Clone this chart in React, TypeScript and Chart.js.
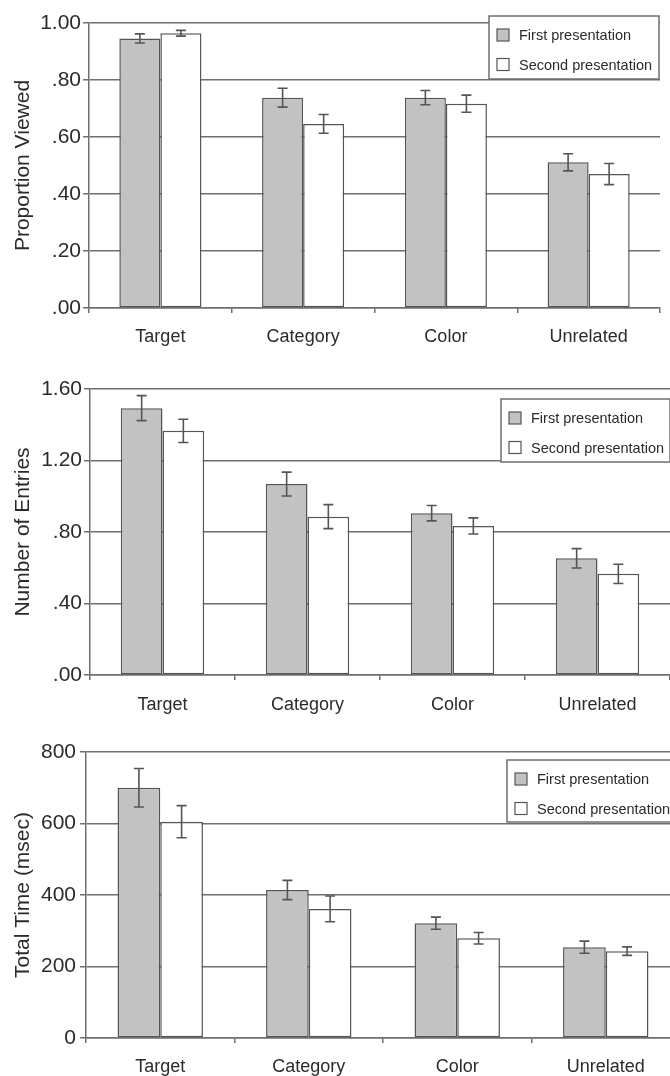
import React, { useEffect, useRef } from 'react';
import { Chart, registerables } from 'chart.js';

Chart.register(...registerables);

// ---- data ----
const categories = ['Target', 'Category', 'Color', 'Unrelated'];
const seriesLabels = ['First presentation', 'Second presentation'];

const viewedFirst = [0.946, 0.738, 0.738, 0.511];
const viewedSecond = [0.964, 0.646, 0.717, 0.47];
const viewedFirstErr = [0.016, 0.033, 0.025, 0.03];
const viewedSecondErr = [0.01, 0.033, 0.03, 0.037];

const entriesFirst = [1.493, 1.068, 0.905, 0.653];
const entriesSecond = [1.366, 0.886, 0.834, 0.566];
const entriesFirstErr = [0.07, 0.067, 0.043, 0.054];
const entriesSecondErr = [0.065, 0.067, 0.045, 0.054];

const timeFirst = [700, 414, 321, 254];
const timeSecond = [605, 361, 279, 243];
const timeFirstErr = [54, 27, 17, 17];
const timeSecondErr = [45, 36, 16, 12];

// ---- styling ----
const FONT = "'Liberation Sans', Arial, Helvetica, sans-serif";
const TEXT = '#2b2b2b';
const LINE = '#6f6f6f';
const EDGE = '#555555';
const GRAY = '#c2c2c2';
const WHITE = '#ffffff';

const decimalLabel = (v: number) => {
  const s = Number(v).toFixed(2);
  return s.startsWith('0') ? s.slice(1) : s;
};
const integerLabel = (v: number) => String(Math.round(Number(v)));

// vertical +/- error whiskers on each bar
const errorBars = {
  id: 'errorBars',
  afterDatasetsDraw(chart: any) {
    const { ctx } = chart;
    const yScale = chart.scales.y;
    ctx.save();
    ctx.strokeStyle = EDGE;
    ctx.lineWidth = 1.6;
    chart.data.datasets.forEach((ds: any, i: number) => {
      const meta = chart.getDatasetMeta(i);
      meta.data.forEach((bar: any, j: number) => {
        const v = ds.data[j];
        const e = ds.errors[j];
        const top = yScale.getPixelForValue(v + e);
        const bot = yScale.getPixelForValue(v - e);
        const x = bar.x;
        const cap = 5;
        ctx.beginPath();
        ctx.moveTo(x, top);
        ctx.lineTo(x, bot);
        ctx.moveTo(x - cap, top);
        ctx.lineTo(x + cap, top);
        ctx.moveTo(x - cap, bot);
        ctx.lineTo(x + cap, bot);
        ctx.stroke();
      });
    });
    ctx.restore();
  },
};

// framed legend box placed over the plot
const boxLegend = {
  id: 'boxLegend',
  afterDraw(chart: any, _args: any, opts: any) {
    const { ctx } = chart;
    const { x, y, w, h } = opts;
    ctx.save();
    ctx.fillStyle = WHITE;
    ctx.fillRect(x, y, w, h);
    ctx.strokeStyle = LINE;
    ctx.lineWidth = 1.5;
    ctx.strokeRect(x, y, w, h);
    ctx.font = `14.5px ${FONT}`;
    ctx.textBaseline = 'middle';
    chart.data.datasets.forEach((ds: any, i: number) => {
      const cy = y + 19 + i * 29.5;
      ctx.fillStyle = ds.backgroundColor;
      ctx.fillRect(x + 8, cy - 6, 12, 12);
      ctx.strokeStyle = EDGE;
      ctx.lineWidth = 1.2;
      ctx.strokeRect(x + 8, cy - 6, 12, 12);
      ctx.fillStyle = TEXT;
      ctx.fillText(ds.label, x + 30, cy + 1);
    });
    ctx.restore();
  },
};

type PanelSpec = {
  width: number;
  height: number;
  first: number[];
  second: number[];
  firstErr: number[];
  secondErr: number[];
  max: number;
  step: number;
  title: string;
  format: (v: number) => string;
  axisWidth: number;
  xAxisHeight: number;
  padTop: number;
  padRight: number;
  xLabelPad: number;
  yLabelPad: number;
  legend: { x: number; y: number; w: number; h: number };
};

function Panel({ spec, top }: { spec: PanelSpec; top: number }) {
  const ref = useRef<HTMLCanvasElement | null>(null);

  useEffect(() => {
    if (!ref.current) return;
    const barDs = (label: string, data: number[], errors: number[], color: string) => ({
      label,
      data,
      errors,
      backgroundColor: color,
      borderColor: EDGE,
      borderWidth: 1.5,
      borderSkipped: false,
      categoryPercentage: 0.575,
      barPercentage: 1.0,
    });

    const chart = new Chart(ref.current, {
      type: 'bar',
      data: {
        labels: categories,
        datasets: [
          barDs(seriesLabels[0], spec.first, spec.firstErr, GRAY),
          barDs(seriesLabels[1], spec.second, spec.secondErr, WHITE),
        ] as any,
      },
      options: {
        responsive: false,
        animation: false,
        devicePixelRatio: 1,
        layout: { padding: { top: spec.padTop, right: spec.padRight, left: 0, bottom: 0 } },
        plugins: {
          legend: { display: false },
          tooltip: { enabled: false },
          boxLegend: spec.legend,
        } as any,
        scales: {
          x: {
            type: 'category',
            grid: {
              offset: true,
              drawOnChartArea: false,
              color: LINE,
              lineWidth: 1.5,
              tickLength: 5,
            },
            border: { color: LINE, width: 1.5 },
            ticks: {
              color: TEXT,
              font: { family: FONT, size: 18 },
              padding: spec.xLabelPad,
              maxRotation: 0,
              autoSkip: false,
            },
            afterFit: (s: any) => {
              s.height = spec.xAxisHeight;
            },
          },
          y: {
            min: 0,
            max: spec.max,
            ticks: {
              stepSize: spec.step,
              color: TEXT,
              font: { family: FONT, size: 21 },
              padding: spec.yLabelPad,
              callback: (v: any) => spec.format(Number(v)),
            },
            grid: { color: LINE, lineWidth: 1.5, tickLength: 6 },
            border: { color: LINE, width: 1.5 },
            title: {
              display: true,
              text: spec.title,
              color: TEXT,
              font: { family: FONT, size: 21 },
              padding: { top: 11, bottom: 0 },
            },
            afterFit: (s: any) => {
              s.width = spec.axisWidth;
            },
          },
        },
      } as any,
      plugins: [errorBars, boxLegend],
    });
    return () => chart.destroy();
  }, [spec]);

  return (
    <div style={{ position: 'absolute', left: 0, top, width: spec.width, height: spec.height }}>
      <canvas ref={ref} width={spec.width} height={spec.height} style={{ display: 'block' }} />
    </div>
  );
}

const panels: { top: number; spec: PanelSpec }[] = [
  {
    top: 0,
    spec: {
      width: 670,
      height: 360,
      first: viewedFirst,
      second: viewedSecond,
      firstErr: viewedFirstErr,
      secondErr: viewedSecondErr,
      max: 1,
      step: 0.2,
      title: 'Proportion Viewed',
      format: decimalLabel,
      axisWidth: 89,
      xAxisHeight: 52,
      padTop: 23,
      padRight: 10,
      xLabelPad: 13,
      yLabelPad: 2,
      legend: { x: 489, y: 16, w: 170, h: 63 },
    },
  },
  {
    top: 360,
    spec: {
      width: 670,
      height: 360,
      first: entriesFirst,
      second: entriesSecond,
      firstErr: entriesFirstErr,
      secondErr: entriesSecondErr,
      max: 1.6,
      step: 0.4,
      title: 'Number of Entries',
      format: decimalLabel,
      axisWidth: 90,
      xAxisHeight: 45,
      padTop: 29,
      padRight: 0,
      xLabelPad: 14,
      yLabelPad: 2,
      legend: { x: 501, y: 39, w: 169, h: 63 },
    },
  },
  {
    top: 720,
    spec: {
      width: 700,
      height: 370,
      first: timeFirst,
      second: timeSecond,
      firstErr: timeFirstErr,
      secondErr: timeSecondErr,
      max: 800,
      step: 200,
      title: 'Total Time (msec)',
      format: integerLabel,
      axisWidth: 86,
      xAxisHeight: 52,
      padTop: 32,
      padRight: 20,
      xLabelPad: 13,
      yLabelPad: 4,
      legend: { x: 507, y: 40, w: 170, h: 62 },
    },
  },
];

export default function App() {
  return (
    <div
      style={{
        position: 'absolute',
        left: 0,
        top: 0,
        width: 670,
        height: 1076,
        overflow: 'hidden',
        background: '#ffffff',
      }}
    >
      {panels.map((p, i) => (
        <Panel key={i} spec={p.spec} top={p.top} />
      ))}
    </div>
  );
}
